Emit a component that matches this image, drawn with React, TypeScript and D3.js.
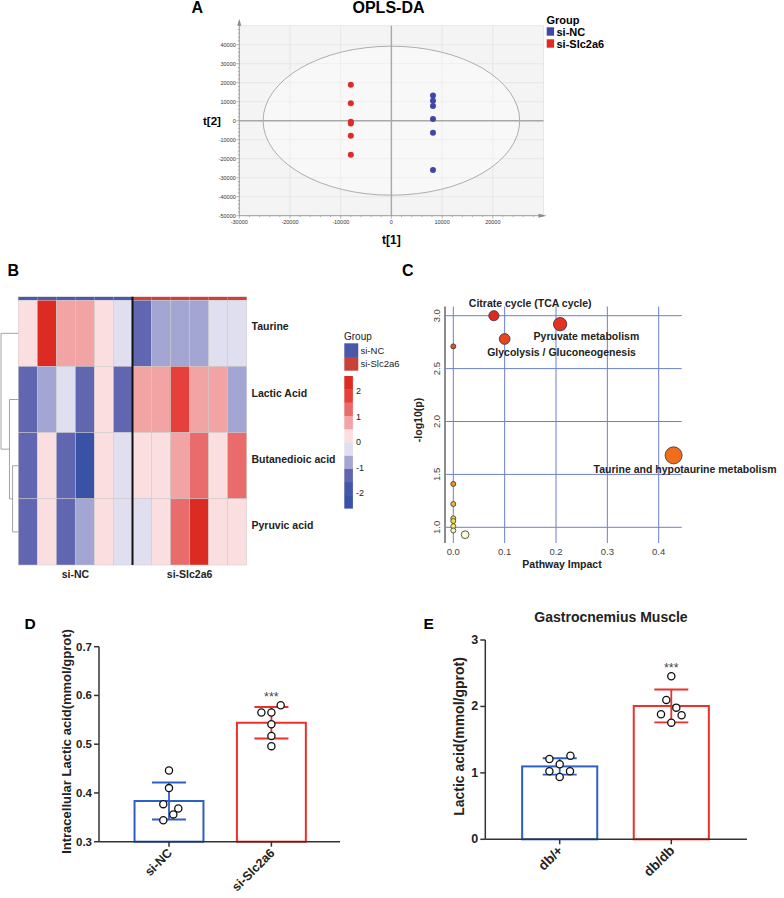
import React from 'react';
import * as d3 from 'd3';

const FONT = "'Liberation Sans', Arial, Helvetica, sans-serif";

// ---------- Panel A: OPLS-DA scores ----------
const groupNames = ['si-NC', 'si-Slc2a6'];
const groupColorsA = ['#3f48a8', '#e02a26'];
const ncT1 = [8200, 8200, 8200, 8200, 8200, 8200];
const ncT2 = [13200, 10500, 7700, 900, -6300, -25900];
const kdT1 = [-8000, -8000, -8000, -8000, -8000, -8000];
const kdT2 = [18950, 9150, -500, -1500, -7900, -17900];
const oplsXTicks = [-30000, -20000, -10000, 0, 10000, 20000];
const oplsYTicks = [40000, 30000, 20000, 10000, 0, -10000, -20000, -30000, -40000, -50000];
const ellipseT1 = 25300;
const ellipseT2 = 39200;

// ---------- Panel B: heatmap ----------
const metabolites = ['Taurine', 'Lactic Acid', 'Butanedioic acid', 'Pyruvic acid'];
const sampleGroup = ['si-NC', 'si-NC', 'si-NC', 'si-NC', 'si-NC', 'si-NC',
  'si-Slc2a6', 'si-Slc2a6', 'si-Slc2a6', 'si-Slc2a6', 'si-Slc2a6', 'si-Slc2a6'];
const taurineZ = [0.2, 2.3, 0.8, 0.8, 0.2, -0.2, -1.3, -0.8, -0.8, -0.8, -0.2, -0.2];
const lacticZ = [-1.3, -0.8, -0.2, -1.3, 0.2, -1.3, 0.8, 0.8, 1.8, 0.8, 0.8, -0.8];
const butanedioicZ = [-1.3, 0.2, -1.3, -2.2, 0.2, -0.2, 0.2, 0.2, 0.8, 1.3, 0.2, 1.3];
const pyruvicZ = [-1.3, 0.2, -1.3, -0.8, 0.2, -0.2, -0.2, 0.2, 1.3, 2.3, 0.2, 0.2];
const heatColors = ['#3a52a6', '#4357aa', '#6166b1', '#a3a5d3', '#dfdff0',
  '#fbdedf', '#f2a4a4', '#ea6b6b', '#e5403c', '#dc2b22'];
const heatLegendTicks = [2, 1, 0, -1, -2];
const groupColorsB = ['#4a58a9', '#c9423a'];
const dendroMerges = [
  { id: 'm0', left: 'Butanedioic acid', right: 'Pyruvic acid', height: 0.33 },
  { id: 'm1', left: 'Lactic Acid', right: 'm0', height: 0.51 },
  { id: 'm2', left: 'Taurine', right: 'm1', height: 1.0 },
];

// ---------- Panel C: pathway analysis ----------
const pathwayNames = ['Citrate cycle (TCA cycle)', 'Pyruvate metabolism', 'Glycolysis / Gluconeogenesis',
  'Taurine and hypotaurine metabolism', '', '', '', '', '', '', '', ''];
const pathwayImpact = [0.079, 0.208, 0.10, 0.429, 0, 0, 0, 0, 0, 0, 0, 0.023];
const pathwayLogP = [3.0, 2.92, 2.78, 1.68, 2.71, 1.41, 1.22, 1.085, 1.06, 1.01, 0.97, 0.93];
const pathwayXTicks = [0, 0.1, 0.2, 0.3, 0.4];
const pathwayYTicks = [1.0, 1.5, 2.0, 2.5, 3.0];
// label offsets (layout only)
const pathwayLabelDx = [-25, -26.5, -17.5, -80];
const pathwayLabelDy = [-9, 15.5, 17.5, 17.5];

// ---------- Panel D ----------
const dCats = ['si-NC', 'si-Slc2a6'];
const dNC = [0.446, 0.410, 0.377, 0.368, 0.356, 0.344];
const dKD = [0.580, 0.565, 0.565, 0.541, 0.517, 0.496];
const dJitterNC = [0, 0, -5.7, 9.3, 4.3, -5.7];
const dJitterKD = [9.3, -10, 0, 0, 0, 0];
const dTicks = [0.3, 0.4, 0.5, 0.6, 0.7];

// ---------- Panel E ----------
const eCats = ['db/+', 'db/db'];
const eDbm = [1.209, 1.259, 1.129, 1.024, 1.024, 0.938];
const eDbdb = [2.455, 2.098, 1.982, 1.882, 1.867, 1.756];
const eJitterDbm = [-10.3, 10.7, 0, -10.3, 10.3, 0];
const eJitterDbdb = [0, -5, 5, -10.3, 10.3, 0];
const eTicks = [0, 1, 2, 3];

const barColors = ['#2f5fc4', '#ec3129'];

function PanelA() {
  const x = d3.scaleLinear().domain([-30000, 30000]).range([239.3, 543.5]);
  const y = d3.scaleLinear().domain([-50000, 50000]).range([215.7, 25.7]);
  const gridX = d3.range(-30000, 30001, 10000);
  const gridY = d3.range(-50000, 50001, 10000);
  const minorX = d3.range(-30000, 29001, 2000);
  const minorY = d3.range(-50000, 49001, 2000);
  const ax = '#8a8a8a';
  const pts = [
    { t1: kdT1, t2: kdT2, c: groupColorsA[1] },
    { t1: ncT1, t2: ncT2, c: groupColorsA[0] },
  ];
  return (
    <g>
      <text x={191.5} y={12.5} fontSize={16} fontWeight="bold">A</text>
      <text x={388.5} y={12.5} fontSize={16} fontWeight="bold" textAnchor="middle">OPLS-DA</text>
      <rect x={x(-30000)} y={y(50000)} width={x(30000) - x(-30000)} height={y(-50000) - y(50000)} fill="#f4f4f4" />
      {gridX.map(v => (
        <line key={'gx' + v} x1={x(v)} x2={x(v)} y1={y(50000)} y2={y(-50000)} stroke="#e2e2e2" strokeWidth={0.8} />
      ))}
      {gridY.map(v => (
        <line key={'gy' + v} x1={x(-30000)} x2={x(30000)} y1={y(v)} y2={y(v)} stroke="#e2e2e2" strokeWidth={0.8} />
      ))}
      <ellipse cx={x(0)} cy={y(0)} rx={x(ellipseT1) - x(0)} ry={y(0) - y(ellipseT2)} fill="#ffffff" fillOpacity={0.35} stroke="#9a9a9a" strokeWidth={0.8} />
      <line x1={x(0)} x2={x(0)} y1={y(50000)} y2={y(-50000)} stroke="#a8a8a8" strokeWidth={1.4} />
      <line x1={x(-30000)} x2={x(30000)} y1={y(0)} y2={y(0)} stroke="#a8a8a8" strokeWidth={1.4} />
      {/* axes */}
      <line x1={x(-30000)} x2={x(-30000)} y1={y(-50000)} y2={y(52500)} stroke={ax} strokeWidth={0.8} />
      <path d={`M${x(-30000) - 2},${y(50000)} L${x(-30000)},${y(53500)} L${x(-30000) + 2},${y(50000)} Z`} fill={ax} />
      <line x1={x(-30000)} x2={x(30000)} y1={y(-50000)} y2={y(-50000)} stroke={ax} strokeWidth={0.8} />
      <path d={`M${x(29000)},${y(-50000) - 2} L${x(30600)},${y(-50000)} L${x(29000)},${y(-50000) + 2} Z`} fill={ax} />
      {minorY.map(v => (
        <line key={'my' + v} x1={x(-30000) - (v % 10000 === 0 ? 3 : 1.5)} x2={x(-30000)} y1={y(v)} y2={y(v)} stroke={ax} strokeWidth={0.6} />
      ))}
      {minorX.map(v => (
        <line key={'mx' + v} x1={x(v)} x2={x(v)} y1={y(-50000)} y2={y(-50000) + (v % 10000 === 0 ? 3 : 1.5)} stroke={ax} strokeWidth={0.6} />
      ))}
      {oplsYTicks.map(v => (
        <text key={'ty' + v} x={x(-30000) - 3.5} y={y(v) + 2} fontSize={5.5} textAnchor="end" fill="#333">{v}</text>
      ))}
      {oplsXTicks.map(v => (
        <text key={'tx' + v} x={x(v)} y={y(-50000) + 8.5} fontSize={5.5} textAnchor="middle" fill="#333">{v}</text>
      ))}
      <text x={203} y={125} fontSize={11.5} fontWeight="bold">t[2]</text>
      <text x={x(0)} y={243.5} fontSize={12} fontWeight="bold" textAnchor="middle">t[1]</text>
      {pts.map((s, si) => s.t1.map((v, i) => (
        <circle key={si + '-' + i} cx={x(v)} cy={y(s.t2[i])} r={3} fill={s.c} />
      )))}
      {/* legend */}
      <text x={546.5} y={24} fontSize={11} fontWeight="bold">Group</text>
      {groupNames.map((g, i) => (
        <g key={g}>
          <rect x={546.7} y={27.3 + i * 12} width={7.4} height={8.4} fill={groupColorsA[i]} />
          <text x={556.5} y={35.5 + i * 12} fontSize={11} fontWeight="bold">{g}</text>
        </g>
      ))}
    </g>
  );
}

function PanelB() {
  const cols = d3.range(12);
  const xc = d3.scaleBand<number>().domain(cols).range([18.3, 246.7]);
  const yr = d3.scaleBand<string>().domain(metabolites).range([300.2, 565]);
  const rows = [taurineZ, lacticZ, butanedioicZ, pyruvicZ];
  const color = d3.scaleQuantize<string>().domain([-2.6, 2.6]).range(heatColors);
  const gColor = d3.scaleOrdinal<string, string>().domain(groupNames).range(groupColorsB);
  // dendrogram
  const dx = d3.scaleLinear().domain([0, 1]).range([18.3, 1]);
  const nodeY: Record<string, number> = {};
  const nodeX: Record<string, number> = {};
  metabolites.forEach(m => { nodeY[m] = yr(m)! + yr.bandwidth() / 2; nodeX[m] = 18.3; });
  const dendroLines: { x1: number; x2: number; y1: number; y2: number }[] = [];
  dendroMerges.forEach(mg => {
    const hx = dx(mg.height);
    const yl = nodeY[mg.left], yrr = nodeY[mg.right];
    dendroLines.push({ x1: hx, x2: hx, y1: yl, y2: yrr });
    dendroLines.push({ x1: hx, x2: nodeX[mg.left], y1: yl, y2: yl });
    dendroLines.push({ x1: hx, x2: nodeX[mg.right], y1: yrr, y2: yrr });
    nodeY[mg.id] = (yl + yrr) / 2;
    nodeX[mg.id] = hx;
  });
  const legendY = d3.scaleLinear().domain([-2.6, 2.6]).range([508.3, 376]);
  const binW = 5.2 / heatColors.length;
  const sepX = xc(6)!;
  return (
    <g>
      <text x={7.5} y={276} fontSize={16} fontWeight="bold">B</text>
      {cols.map(c => (
        <rect key={'g' + c} x={xc(c)} y={296.8} width={xc.bandwidth()} height={3.4} fill={gColor(sampleGroup[c])} />
      ))}
      {rows.map((vals, ri) => vals.map((v, c) => (
        <rect key={ri + '-' + c} x={xc(c)} y={yr(metabolites[ri])} width={xc.bandwidth()} height={yr.bandwidth()}
          fill={color(v)} stroke="#c8c8c8" strokeWidth={0.5} />
      )))}
      <line x1={sepX} x2={sepX} y1={296.8} y2={565} stroke="#111" strokeWidth={2} />
      {dendroLines.map((l, i) => (
        <line key={'d' + i} x1={l.x1} x2={l.x2} y1={l.y1} y2={l.y2} stroke="#9a9a9a" strokeWidth={0.9} />
      ))}
      {metabolites.map(m => (
        <text key={m} x={251.5} y={yr(m)! + yr.bandwidth() / 2 - 3} fontSize={10.5} fontWeight="bold" fill="#222">{m}</text>
      ))}
      <text x={(xc(0)! + xc(5)! + xc.bandwidth()) / 2} y={578} fontSize={10.5} fontWeight="bold" textAnchor="middle" fill="#222">si-NC</text>
      <text x={(xc(6)! + xc(11)! + xc.bandwidth()) / 2} y={578} fontSize={10.5} fontWeight="bold" textAnchor="middle" fill="#222">si-Slc2a6</text>
      {/* legend */}
      <text x={344} y={340} fontSize={10} fill="#222">Group</text>
      {groupNames.map((g, i) => (
        <g key={g}>
          <rect x={344.3} y={343.3 + i * 13.7} width={14} height={13.7} fill={groupColorsB[i]} />
          <text x={360.5} y={353.5 + i * 13.7} fontSize={9.5} fill="#222">{g}</text>
        </g>
      ))}
      {heatColors.map((c, i) => (
        <rect key={c} x={344.3} y={legendY(-2.6 + (i + 1) * binW)} width={8.6}
          height={legendY(-2.6 + i * binW) - legendY(-2.6 + (i + 1) * binW) + 0.3} fill={c} />
      ))}
      {heatLegendTicks.map(t => (
        <text key={t} x={356} y={legendY(t) + 3} fontSize={9} fill="#222">{t}</text>
      ))}
    </g>
  );
}

function PanelC() {
  const x = d3.scaleLinear().domain([0, 0.4]).range([453.3, 658.7]);
  const y = d3.scaleLinear().domain([1, 3]).range([527.3, 315.7]);
  const r = d3.scaleSqrt().domain([0, 0.43]).range([2.5, 8.5]);
  const col = d3.scaleLinear<string>().domain([0.93, 1.02, 1.1, 1.25, 1.45, 1.7, 2.7, 3.0])
    .range(['#fdfbd6', '#f8ec62', '#f3d234', '#f3ae2e', '#f08a1c', '#f06a1a', '#e8501f', '#e0281e']);
  const left = 445, right = 681.7, top = 306.5, bottom = 543;
  const grid = '#6d7fd3';
  const order = d3.range(pathwayLogP.length).sort((a, b) => pathwayImpact[a] - pathwayImpact[b]);
  return (
    <g>
      <text x={402} y={276} fontSize={16} fontWeight="bold">C</text>
      {pathwayYTicks.map(t => (
        <line key={'gy' + t} x1={left} x2={right} y1={y(t)} y2={y(t)} stroke={grid} strokeWidth={1} />
      ))}
      {pathwayXTicks.map(t => (
        <line key={'gx' + t} x1={x(t)} x2={x(t)} y1={top} y2={bottom} stroke={grid} strokeWidth={1} />
      ))}
      <line x1={left} x2={left} y1={top} y2={bottom} stroke="#8c8c8c" strokeWidth={2} />
      {pathwayYTicks.map(t => (
        <text key={'ty' + t} transform={`translate(${440},${y(t)}) rotate(-90)`} fontSize={9.5} textAnchor="middle" fill="#444">{t.toFixed(1)}</text>
      ))}
      {pathwayXTicks.map(t => (
        <text key={'tx' + t} x={x(t)} y={554.5} fontSize={9.5} textAnchor="middle" fill="#444">{t.toFixed(1)}</text>
      ))}
      <text transform={`translate(${421.5},${420}) rotate(-90)`} fontSize={10.5} fontWeight="bold" textAnchor="middle" fill="#222">-log10(p)</text>
      <text x={562} y={568} fontSize={10.5} fontWeight="bold" textAnchor="middle" fill="#222">Pathway Impact</text>
      {order.map(i => (
        <circle key={'b' + i} cx={x(pathwayImpact[i])} cy={y(pathwayLogP[i])} r={r(pathwayImpact[i])}
          fill={col(pathwayLogP[i])} stroke="#333" strokeWidth={0.8} />
      ))}
      {pathwayNames.map((n, i) => n ? (
        <text key={'l' + i} x={x(pathwayImpact[i]) + pathwayLabelDx[i]} y={y(pathwayLogP[i]) + pathwayLabelDy[i]}
          fontSize={10.5} fontWeight="bold" fill="#222">{n}</text>
      ) : null)}
    </g>
  );
}

function BarPanel(props: {
  letter: string; letterX: number; title?: string; titleX?: number;
  cats: string[]; series: number[][]; jitter: number[][]; ticks: number[]; tickFmt: (v: number) => string;
  domain: [number, number]; yRange: [number, number]; xRange: [number, number]; bandRange: [number, number];
  axisRight: number; yLabel: string; yLabelX: number; yLabelY: number; yLabelSize: number; tickSize: number;
  catSize: number;
}) {
  const p = props;
  const y = d3.scaleLinear().domain(p.domain).range(p.yRange);
  const xb = d3.scaleBand<string>().domain(p.cats).range(p.bandRange).paddingInner(0.327).paddingOuter(0.1635);
  const axisX = p.xRange[0];
  const axisY = y(p.domain[0]);
  const ink = '#333';
  return (
    <g>
      <text x={p.letterX} y={629.3} fontSize={15.5} fontWeight="bold">{p.letter}</text>
      {p.title ? <text x={p.titleX} y={622} fontSize={14} fontWeight="bold" textAnchor="middle" fill="#222">{p.title}</text> : null}
      {p.series.map((vals, i) => {
        const c = p.cats[i];
        const mean = d3.mean(vals)!;
        const sd = d3.deviation(vals)!;
        const cx = xb(c)! + xb.bandwidth() / 2;
        const capW = 17;
        return (
          <g key={c}>
            <rect x={xb(c)} y={y(mean)} width={xb.bandwidth()} height={axisY - y(mean)} fill="none" stroke={barColors[i]} strokeWidth={2} />
            <line x1={cx} x2={cx} y1={y(mean + sd)} y2={y(mean - sd)} stroke={barColors[i]} strokeWidth={1.8} />
            <line x1={cx - capW} x2={cx + capW} y1={y(mean + sd)} y2={y(mean + sd)} stroke={barColors[i]} strokeWidth={1.8} />
            <line x1={cx - capW} x2={cx + capW} y1={y(mean - sd)} y2={y(mean - sd)} stroke={barColors[i]} strokeWidth={1.8} />
            {vals.map((v, j) => (
              <circle key={j} cx={cx + p.jitter[i][j]} cy={y(v)} r={3.6} fill="#fff" stroke="#111" strokeWidth={1.3} />
            ))}
            {i === 1 ? <text x={cx} y={y(d3.max(vals)!) - 4.3} fontSize={12.5} textAnchor="middle" fill="#444">***</text> : null}
            <line x1={cx} x2={cx} y1={axisY} y2={axisY + 5} stroke={ink} strokeWidth={1.5} />
            <text transform={`translate(${cx + 4},${axisY + 12}) rotate(-45)`} fontSize={p.catSize} fontWeight="bold" textAnchor="end" fill="#222">{c}</text>
          </g>
        );
      })}
      <line x1={axisX} x2={axisX} y1={y(p.domain[1])} y2={axisY} stroke={ink} strokeWidth={1.5} />
      <line x1={axisX} x2={p.axisRight} y1={axisY} y2={axisY} stroke={ink} strokeWidth={1.5} />
      {p.ticks.map(t => (
        <g key={t}>
          <line x1={axisX - 5} x2={axisX} y1={y(t)} y2={y(t)} stroke={ink} strokeWidth={1.5} />
          <text x={axisX - 7} y={y(t) + 4} fontSize={p.tickSize} fontWeight="bold" textAnchor="end" fill="#222">{p.tickFmt(t)}</text>
        </g>
      ))}
      <text transform={`translate(${p.yLabelX},${p.yLabelY}) rotate(-90)`} fontSize={p.yLabelSize} fontWeight="bold" textAnchor="middle" fill="#222">{p.yLabel}</text>
    </g>
  );
}

export default function App() {
  return (
    <svg width={784} height={898} style={{ position: 'absolute', left: 0, top: 0, background: '#fff' }}
      fontFamily={FONT}>
      <rect width={784} height={898} fill="#fff" />
      <PanelA />
      <PanelB />
      <PanelC />
      <BarPanel letter="D" letterX={24.5} cats={dCats} series={[dNC, dKD]} jitter={[dJitterNC, dJitterKD]}
        ticks={dTicks} tickFmt={v => v.toFixed(1)} domain={[0.3, 0.7]} yRange={[841.7, 646.7]} xRange={[99, 340]}
        bandRange={[117.8, 322.6]} axisRight={340} yLabel="Intracellular Lactic acid(mmol/gprot)" yLabelX={71} yLabelY={741.5}
        yLabelSize={13} tickSize={11.5} catSize={12.5} />
      <BarPanel letter="E" letterX={423.5} title="Gastrocnemius Muscle" titleX={611} cats={eCats} series={[eDbm, eDbdb]}
        jitter={[eJitterDbm, eJitterDbdb]} ticks={eTicks} tickFmt={v => String(v)} domain={[0, 3]} yRange={[839.3, 640]}
        xRange={[485.3, 747]} bandRange={[503.9, 727.1]} axisRight={747} yLabel="Lactic acid(mmol/gprot)" yLabelX={463.5}
        yLabelY={736.5} yLabelSize={14} tickSize={12.5} catSize={13.5} />
    </svg>
  );
}
